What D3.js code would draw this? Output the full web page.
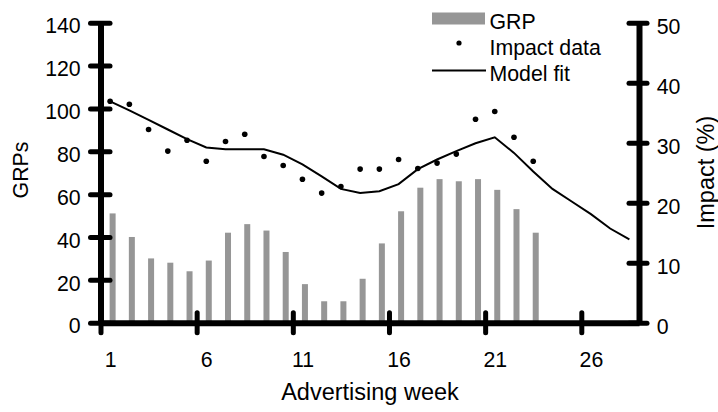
<!DOCTYPE html>
<html>
<head>
<meta charset="utf-8">
<script src="https://cdn.jsdelivr.net/npm/d3@7/dist/d3.min.js"></script>
<style>
  html, body { margin: 0; padding: 0; background: #fff; }
  svg { display: block; font-family: "Liberation Sans", Arial, sans-serif; }
</style>
</head>
<body>
<svg id="chart" width="718" height="412"></svg>
<script>
// Weekly advertising pressure (GRPs) and ad impact (%)
const weeks = d3.range(1, 29);
const grp = [51, 40, 30, 28, 24, 29, 42, 46, 43, 33, 18, 10, 10, 20.5, 37, 52, 63, 67, 66, 67, 62, 53, 42];
const impactData = [36.9, 36.4, 32.2, 28.6, 30.4, 26.9, 30.2, 31.4, 27.7, 26.2, 23.9, 21.6, 22.7, 25.6, 25.6, 27.2, 25.7, 26.6, 28.1, 33.9, 35.2, 30.9, 26.9];
const modelFit = [36.9, 35.4, 33.8, 32.2, 30.6, 29.2, 28.9, 28.9, 28.9, 28.0, 26.4, 24.4, 22.3, 21.6, 21.9, 23.1, 25.6, 27.2, 28.6, 29.9, 30.9, 28.3, 25.2, 22.3, 20.2, 18.1, 15.7, 13.9];
const grpTicks = [0, 20, 40, 60, 80, 100, 120, 140];
const impactTicks = [0, 10, 20, 30, 40, 50];
const weekTicks = [1, 6, 11, 16, 21, 26];

const svg = d3.select("#chart");
const FONT = 21.3;
const TITLE_FONT = 23.5;
const GREY = "#969696";

// Category scale: week w occupies the slot [w-1, w]
const x = d3.scaleLinear().domain([0, 28]).range([100.5, 639]);
const xc = w => x(w - 0.5);
const yL = d3.scaleLinear().domain([0, 140]).range([322.7, 22.7]);
const yR = d3.scaleLinear().domain([0, 50]).range([322.7, 22.7]);

// GRP bars
svg.append("g").selectAll("rect").data(grp).join("rect")
  .attr("x", (d, i) => xc(weeks[i]) - 0.5)
  .attr("width", 6)
  .attr("y", d => yL(d))
  .attr("height", d => yL(0) - yL(d))
  .attr("fill", GREY);

// Model fit line
svg.append("path")
  .datum(modelFit)
  .attr("fill", "none")
  .attr("stroke", "#000")
  .attr("stroke-width", 2)
  .attr("d", d3.line().x((d, i) => xc(weeks[i])).y(d => yR(d)));

// Impact data points
svg.append("g").selectAll("circle").data(impactData).join("circle")
  .attr("cx", (d, i) => xc(weeks[i]))
  .attr("cy", d => yR(d))
  .attr("r", 2.8)
  .attr("fill", "#000");

function styleAxis(g) {
  g.select(".domain").attr("stroke", "#000").attr("stroke-width", 6);
  g.selectAll(".tick line").attr("stroke", "#000").attr("stroke-width", 5).attr("stroke-linecap", "round");
  g.selectAll(".tick text").attr("fill", "#000").style("font-size", FONT + "px")
    .style("font-family", '"Liberation Sans", Arial, sans-serif');
}

// X axis (ticks at slot boundaries, labels centred on weeks)
const gx = svg.append("g").attr("transform", `translate(0,${yL(0)})`)
  .call(d3.axisBottom(x).tickValues(weekTicks.map(w => w - 1)).tickSizeOuter(0)
    .tickFormat(v => String(v + 1)));
styleAxis(gx);
gx.selectAll(".tick line").attr("y1", -10).attr("y2", 10);
gx.selectAll(".tick text").attr("x", x(0.5) - x(0)).attr("y", 0).attr("dy", null).attr("transform", "translate(0,44.6)");

// Left axis (GRPs)
const gl = svg.append("g").attr("transform", `translate(${x(0)},0)`)
  .call(d3.axisLeft(yL).tickValues(grpTicks).tickSizeOuter(0));
styleAxis(gl);
gl.selectAll(".tick line").attr("x1", -10).attr("x2", 9.5);
gl.selectAll(".tick text").attr("x", -19.8).attr("dy", null).attr("y", 10.2);

// Right axis (Impact %)
const gr = svg.append("g").attr("transform", `translate(${x(28)},0)`)
  .call(d3.axisRight(yR).tickValues(impactTicks).tickSizeOuter(0));
styleAxis(gr);
gr.selectAll(".tick line").attr("x1", -10).attr("x2", 8);
gr.selectAll(".tick text").attr("x", 17.7).attr("dy", null).attr("y", 10.6);

// Axis titles
svg.append("text")
  .attr("x", 370).attr("y", 400)
  .attr("text-anchor", "middle")
  .style("font-size", TITLE_FONT + "px")
  .text("Advertising week");

svg.append("text")
  .attr("transform", "translate(28,170) rotate(-90)")
  .attr("text-anchor", "middle")
  .style("font-size", FONT + "px")
  .text("GRPs");

svg.append("text")
  .attr("transform", "translate(714,172.5) rotate(-90)")
  .attr("text-anchor", "middle")
  .style("font-size", TITLE_FONT + "px")
  .text("Impact (%)");

// Legend
const lg = svg.append("g");
lg.append("rect").attr("x", 432).attr("y", 12.5).attr("width", 53).attr("height", 12).attr("fill", GREY);
lg.append("circle").attr("cx", 459).attr("cy", 43).attr("r", 2.6).attr("fill", "#000");
lg.append("line").attr("x1", 432).attr("x2", 486).attr("y1", 70.5).attr("y2", 70.5)
  .attr("stroke", "#000").attr("stroke-width", 2);
const legendLabels = ["GRP", "Impact data", "Model fit"];
const legendBaselines = [29, 55, 81];
lg.selectAll("text").data(legendLabels).join("text")
  .attr("x", 489.5)
  .attr("y", (d, i) => legendBaselines[i])
  .style("font-size", FONT + "px")
  .text(d => d);
</script>
</body>
</html>
